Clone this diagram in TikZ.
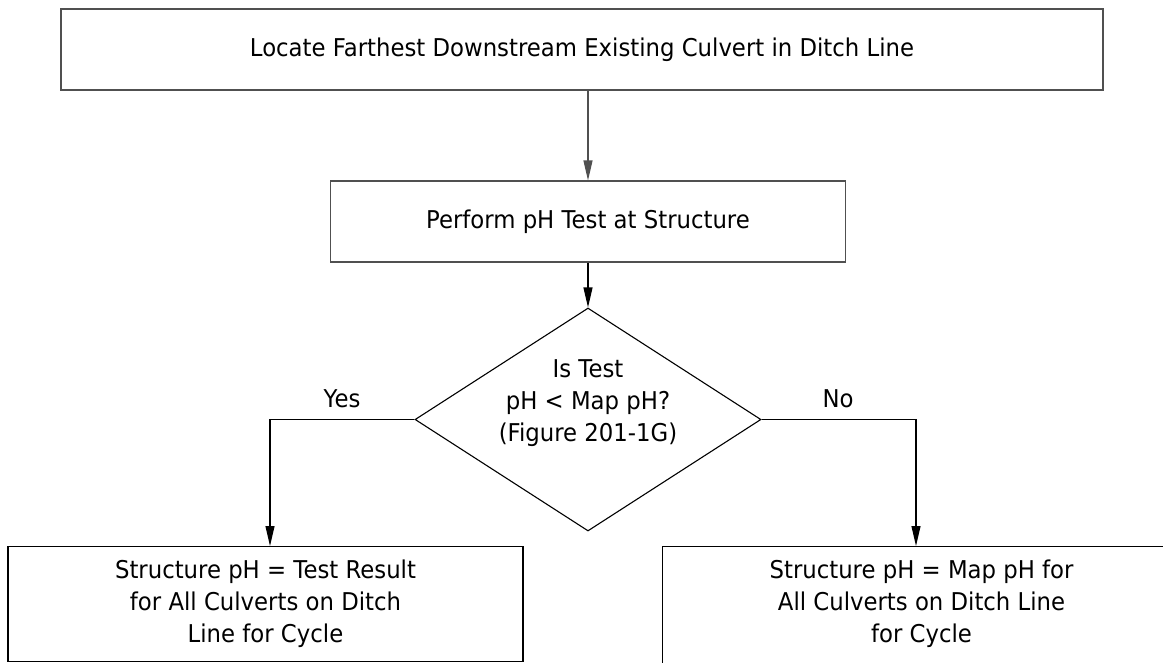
\documentclass[tikz,border=0pt]{standalone}
\usepackage{fontspec}
\setmainfont{DejaVu Sans}[FakeStretch=0.93]
\usetikzlibrary{arrows.meta,shapes.geometric}
\definecolor{edgegray}{HTML}{505050}
\begin{document}
\begin{tikzpicture}[x=1pt,y=-1pt,
  font=\fontsize{24.5}{32}\selectfont,
  every node/.style={inner sep=0pt},
  procbox/.style={draw, line width=1.1pt, rectangle, align=center},
  decision/.style={draw, line width=1.1pt, diamond, minimum width=346pt, minimum height=223pt},
  flow/.style={line width=1.1pt, -{Triangle[length=20pt,width=9pt]}},
  lbl/.style={font=\fontsize{24.5}{32}\selectfont}
]
\useasboundingbox (0,0) rectangle (1163,662);
\begin{scope}
\clip (0,0) rectangle (1163,662);
\node[procbox, draw=edgegray, minimum width=1042pt, minimum height=81pt] (locate) at (582,49.5)
  {Locate Farthest Downstream Existing Culvert in Ditch Line};
\node[procbox, draw=edgegray, minimum width=515pt, minimum height=81pt] (perform) at (588,221.5)
  {Perform pH Test at Structure};
\node[decision] (test) at (588,419.5) {};
\node[align=center] (testtxt) at (588,403) {Is Test\\pH < Map pH?\\(Figure 201-1G)};
\node[procbox, anchor=north, minimum width=515pt, minimum height=115pt] (yesbox) at (265.5,546)
  {Structure pH = Test Result\\for All Culverts on Ditch\\Line for Cycle};
\node[procbox, anchor=north west, minimum width=518pt, inner ysep=13.5pt, text depth=40pt] (nobox) at (662,546)
  {Structure pH = Map pH for\\All Culverts on Ditch Line\\for Cycle};
\coordinate (yescorner) at (270,419.5);
\coordinate (nocorner) at (916,419.5);
\draw[flow, edgegray] (locate.south -| perform.north) -- (perform.north);
\draw[flow] (perform.south) -- (test.north);
\draw[flow] (test.west) -- (yescorner) -- (yescorner |- yesbox.north);
\draw[flow] (test.east) -- (nocorner) -- (nocorner |- nobox.north);
\node[lbl] (yes) at (342,399) {Yes};
\node[lbl] (no) at (838,399) {No};
\end{scope}
\end{tikzpicture}
\end{document}
